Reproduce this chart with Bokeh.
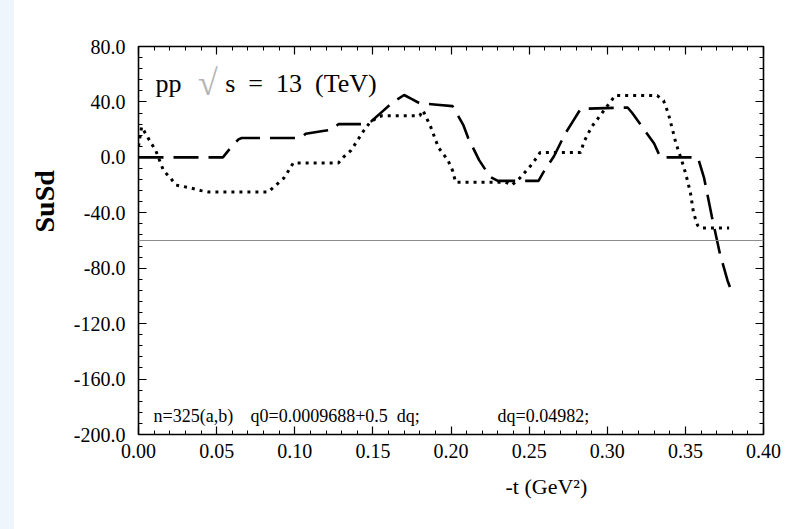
from bokeh.embed import file_html
from bokeh.layouts import row
from bokeh.models import (FixedTicker, Label, LinearAxis, PrintfTickFormatter,
                          Range1d, Spacer, Span, Title)
from bokeh.plotting import figure
from bokeh.resources import INLINE

# ---- data -------------------------------------------------------------
# dashed curve: SuSd vs -t
dash_t = [0.000, 0.054, 0.059, 0.064, 0.066, 0.104, 0.107, 0.112, 0.118, 0.124,
          0.128, 0.144, 0.149, 0.156, 0.163, 0.170, 0.175, 0.180, 0.191, 0.201,
          0.208, 0.211, 0.218, 0.225, 0.230, 0.256, 0.259, 0.266, 0.273, 0.278,
          0.283, 0.313, 0.316, 0.330, 0.334, 0.358, 0.362, 0.367, 0.372, 0.377,
          0.380]
dash_v = [0.0, 0.0, 7.0, 13.0, 14.0, 14.0, 17.0, 18.0, 19.0, 20.0,
          24.0, 24.0, 26.0, 33.0, 40.0, 45.0, 42.0, 39.0, 38.0, 37.0,
          23.0, 14.0, -2.0, -14.0, -17.0, -17.0, -11.0, 1.0, 17.0, 26.0,
          35.0, 36.0, 32.0, 10.0, 0.0, 0.0, -15.0, -43.0, -69.0, -89.0,
          -98.0]

# dotted curve: SuSd vs -t
dot_t = [0.000, 0.002, 0.0077, 0.011, 0.016, 0.0205, 0.024, 0.033, 0.040, 0.045,
         0.083, 0.088, 0.093, 0.097, 0.099, 0.128, 0.131, 0.136, 0.140, 0.144,
         0.148, 0.153, 0.156, 0.180, 0.182, 0.187, 0.192, 0.198, 0.201, 0.203,
         0.235, 0.239, 0.244, 0.251, 0.255, 0.257, 0.283, 0.285, 0.290, 0.294,
         0.298, 0.302, 0.305, 0.332, 0.336, 0.339, 0.342, 0.344, 0.347, 0.349,
         0.3514, 0.3533, 0.3552, 0.3578, 0.360, 0.378]
dot_v = [8.0, 22.0, 11.0, 5.0, -9.5, -15.0, -20.0, -22.0, -24.0, -25.0,
         -25.0, -20.0, -15.0, -8.0, -4.0, -4.0, 0.0, 5.0, 12.0, 19.0,
         25.0, 29.0, 30.0, 30.0, 34.0, 22.0, 7.0, -2.0, -9.5, -18.0,
         -18.0, -20.0, -15.0, -6.0, 0.0, 3.5, 3.5, 11.0, 22.0, 28.0,
         34.0, 40.0, 44.6, 44.6, 41.0, 32.0, 19.0, 10.0, 0.0, -7.0,
         -17.0, -26.0, -40.0, -49.0, -51.0, -51.0]

ref_level = -60.0

x_ticks = [0.00, 0.05, 0.10, 0.15, 0.20, 0.25, 0.30, 0.35, 0.40]
y_ticks = [-200.0, -160.0, -120.0, -80.0, -40.0, 0.0, 40.0, 80.0]
x_minor = [round(i * 0.01, 2) for i in range(41)]
y_minor = [-200.0 + 8.0 * i for i in range(36)]

SERIF = "Liberation Serif"
EN = "\u2002"

# ---- figure -----------------------------------------------------------
p = figure(width=797, height=529, output_backend="svg", toolbar_location=None,
           x_range=Range1d(0.0, 0.40), y_range=Range1d(-200.0, 80.0),
           min_border_left=124, min_border_right=48,
           min_border_top=46, min_border_bottom=95)
p.background_fill_color = "white"
p.border_fill_color = "white"
p.outline_line_color = "black"
p.outline_line_width = 1.6
p.grid.visible = False


def style_axis(ax, labels=True):
    ax.axis_line_color = None
    ax.major_tick_in = 8
    ax.major_tick_out = 0
    ax.minor_tick_in = 4
    ax.minor_tick_out = 0
    ax.major_tick_line_color = "black"
    ax.minor_tick_line_color = "black"
    ax.major_tick_line_width = 1.2
    ax.minor_tick_line_width = 1
    if labels:
        ax.major_label_text_font = SERIF
        ax.major_label_text_font_size = "20px"
        ax.major_label_text_color = "black"
    else:
        ax.major_label_text_font_size = "0px"
        ax.major_label_text_alpha = 0


xax = p.xaxis[0]
xax.ticker = FixedTicker(ticks=x_ticks, minor_ticks=x_minor)
xax.formatter = PrintfTickFormatter(format="%.2f")
xax.major_label_standoff = 9
style_axis(xax)

yax = p.yaxis[0]
yax.ticker = FixedTicker(ticks=y_ticks, minor_ticks=y_minor)
yax.formatter = PrintfTickFormatter(format="%.1f")
yax.major_label_standoff = 13
style_axis(yax)

top = LinearAxis(ticker=FixedTicker(ticks=x_ticks, minor_ticks=x_minor))
style_axis(top, labels=False)
p.add_layout(top, "above")
right = LinearAxis(ticker=FixedTicker(ticks=y_ticks, minor_ticks=y_minor))
style_axis(right, labels=False)
p.add_layout(right, "right")

# axis titles, placed off-centre along their axes
p.add_layout(Title(text="-t (GeV\u00b2)", text_font=SERIF, text_font_size="22px",
                   text_font_style="normal", text_color="black",
                   align="left", offset=367, standoff=23), "below")
p.add_layout(Title(text="SuSd", text_font=SERIF, text_font_size="28px",
                   text_font_style="bold", text_color="black",
                   align="left", offset=202, standoff=22), "left")

# reference level
p.add_layout(Span(location=ref_level, dimension="width",
                  line_color="#8c8c8c", line_width=1.2))

# curves
p.line(dash_t, dash_v, line_color="black", line_width=2.6, line_dash="25 10")
p.line(dot_t, dot_v, line_color="black", line_width=3, line_dash="3 5")


# ---- texts inside the frame -------------------------------------------
def add_text(x, y, text, size, color="black"):
    p.add_layout(Label(x=x, y=y, text=text, text_font=SERIF,
                       text_font_size=size, text_color=color,
                       text_align="left", text_baseline="alphabetic"))


add_text(0.0109, 53.3, "pp", "26px")
add_text(0.0380, 53.5, "\u221a", "36px", color="#b4b4b4")
add_text(0.0555, 53.3, "s" + EN + "=" + EN + "13" + EN + "(TeV)", "26px")

add_text(0.0096, -187.0, "n=325(a,b)", "18px")
add_text(0.0717, -187.0, "q0=0.0009688+0.5" + EN + "dq;", "18px")
add_text(0.2298, -187.0, "dq=0.04982;", "18px")

strip = Spacer(width=14, height=529, styles={"background-color": "#eef5fc"})
layout = row(strip, p)

open("out.html", "w").write(file_html(layout, INLINE))
